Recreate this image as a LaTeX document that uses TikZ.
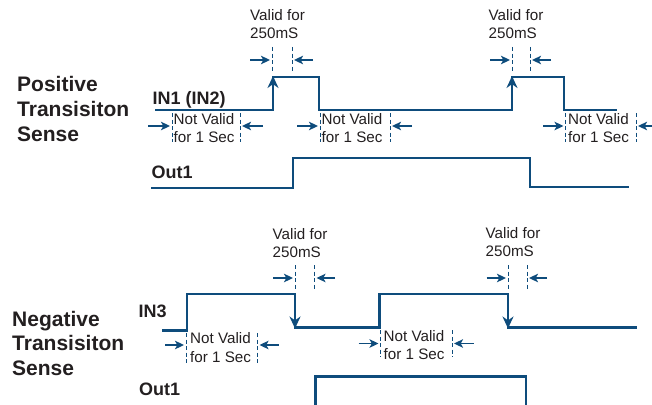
\documentclass[tikz,border=0pt]{standalone}
\usepackage{fontspec}
\setmainfont{Liberation Sans}
\usetikzlibrary{arrows.meta}
\definecolor{sigblue}{HTML}{0E4C7C}
\definecolor{txtgray}{HTML}{231F20}
\begin{document}
\begin{tikzpicture}[x=1pt,y=-1pt,
  sig/.style={draw=sigblue,line width=2.6pt,line join=miter,line cap=butt},
  edgearrow/.style={draw=sigblue,fill=sigblue,line width=2.6pt,-{Stealth[length=12pt,width=11pt]}},
  dimline/.style={draw=sigblue,line width=1pt,dash pattern=on 4pt off 2.5pt},
  dimarrow/.style={draw=sigblue,line width=1.3pt,-{Stealth[length=9pt,width=8.5pt,inset=2.2pt]}},
  title/.style={anchor=base west,inner sep=0pt,text=txtgray,font=\fontsize{21}{25}\selectfont\bfseries},
  signame/.style={anchor=base west,inner sep=0pt,text=txtgray,font=\fontsize{18}{20}\selectfont\bfseries},
  note/.style={anchor=base west,inner sep=0pt,text=txtgray,font=\fontsize{15.2}{18}\selectfont},
]
\useasboundingbox (0,0) rectangle (652,404);

% ---------------- Titles ----------------
\node[title] (pos1) at (17,91) {Positive};
\node[title] (pos2) at (17,116) {Transisiton};
\node[title] (pos3) at (17,141) {Sense};
\node[title] (neg1) at (12,326) {Negative};
\node[title] (neg2) at (12,350) {Transisiton};
\node[title] (neg3) at (12,375) {Sense};

\node[signame] (in1) at (152.5,104) {IN1 (IN2)};
\node[signame] (out1a) at (151.5,178.5) {Out1};
\node[signame] (in3) at (138.5,317) {IN3};
\node[signame] (out1b) at (139,395) {Out1};

% ---------------- Top signals ----------------
\draw[sig] (155,110) -- (273,110) -- (273,77) -- (319,77) -- (319,110)
  -- (512,110) -- (512,77) -- (564,77) -- (564,110) -- (617,110);
\draw[edgearrow] (273,100) -- (273,76);
\draw[edgearrow] (512,100) -- (512,76);
\draw[sig] (151,188) -- (293,188) -- (293,158) -- (530,158) -- (530,187) -- (629,187);

% Valid for 250mS (top)
\node[note] (v1a) at (250,21) {Valid for};
\node[note] (v1b) at (250,38.5) {250mS};
\draw[dimline] (272,47) -- (272,72);
\draw[dimline] (292,47) -- (292,72);
\draw[dimarrow] (250,60) -- (270,60);
\draw[dimarrow] (313,60) -- (294,60);

\node[note] (v2a) at (488.5,21) {Valid for};
\node[note] (v2b) at (488.5,38.5) {250mS};
\draw[dimline] (512,47) -- (512,72);
\draw[dimline] (530,47) -- (530,72);
\draw[dimarrow] (490,60) -- (510,60);
\draw[dimarrow] (551,60) -- (532,60);

% Not valid (top)
\node[note] (n1a) at (173.5,124) {Not Valid};
\node[note] (n1b) at (173.5,142.5) {for 1 Sec};
\draw[dimline] (172,113) -- (172,142);
\draw[dimline] (240,113) -- (240,142);
\draw[dimarrow] (148,126) -- (170,126);
\draw[dimarrow] (263,126) -- (242,126);

\node[note] (n2a) at (321.5,124) {Not Valid};
\node[note] (n2b) at (321.5,142.5) {for 1 Sec};
\draw[dimline] (320,113) -- (320,142);
\draw[dimline] (390,113) -- (390,142);
\draw[dimarrow] (297,126) -- (318,126);
\draw[dimarrow] (412,126) -- (392,126);

\node[note] (n3a) at (568,124) {Not Valid};
\node[note] (n3b) at (568,142.5) {for 1 Sec};
\draw[dimline] (565.5,113) -- (565.5,142);
\draw[dimline] (636,113) -- (636,142);
\draw[dimarrow] (543,126) -- (563.5,126);
\draw[dimarrow] (660,126) -- (638,126);

% ---------------- Bottom signals ----------------
\draw[sig] (162,330.5) -- (187,330.5) -- (187,294) -- (295,294) -- (295,327.5)
  -- (379.5,327.5) -- (379.5,294) -- (508,294) -- (508,327.5) -- (637,327.5);
\draw[edgearrow] (295,300) -- (295,328.5);
\draw[edgearrow] (508,300) -- (508,328.5);
\draw[sig] (315.5,410) -- (315.5,376.5) -- (526,376.5) -- (526,410);

% Valid for 250mS (bottom)
\node[note] (v3a) at (272.5,239.5) {Valid for};
\node[note] (v3b) at (272.5,257) {250mS};
\draw[dimline] (295,265) -- (295,290);
\draw[dimline] (314.5,265) -- (314.5,290);
\draw[dimarrow] (273,278) -- (293,278);
\draw[dimarrow] (335,278) -- (316.5,278);

\node[note] (v4a) at (485.5,238.5) {Valid for};
\node[note] (v4b) at (485.5,256.5) {250mS};
\draw[dimline] (508,265) -- (508,290);
\draw[dimline] (527,265) -- (527,290);
\draw[dimarrow] (486.5,278) -- (506,278);
\draw[dimarrow] (547,278) -- (529,278);

% Not valid (bottom)
\node[note] (n4a) at (190,343.5) {Not Valid};
\node[note] (n4b) at (190,362.5) {for 1 Sec};
\draw[dimline] (186,333) -- (186,363);
\draw[dimline] (257.5,333) -- (257.5,363);
\draw[dimarrow] (165,345) -- (184,345);
\draw[dimarrow] (278.5,345) -- (259.5,345);

\node[note] (n5a) at (383.5,341) {Not Valid};
\node[note] (n5b) at (383.5,359.5) {for 1 Sec};
\draw[dimline] (380.5,330) -- (380.5,357);
\draw[dimline] (452,330) -- (452,357);
\draw[dimarrow] (358.5,343.5) -- (378.5,343.5);
\draw[dimarrow] (473.5,343.5) -- (454,343.5);
\end{tikzpicture}
\end{document}
